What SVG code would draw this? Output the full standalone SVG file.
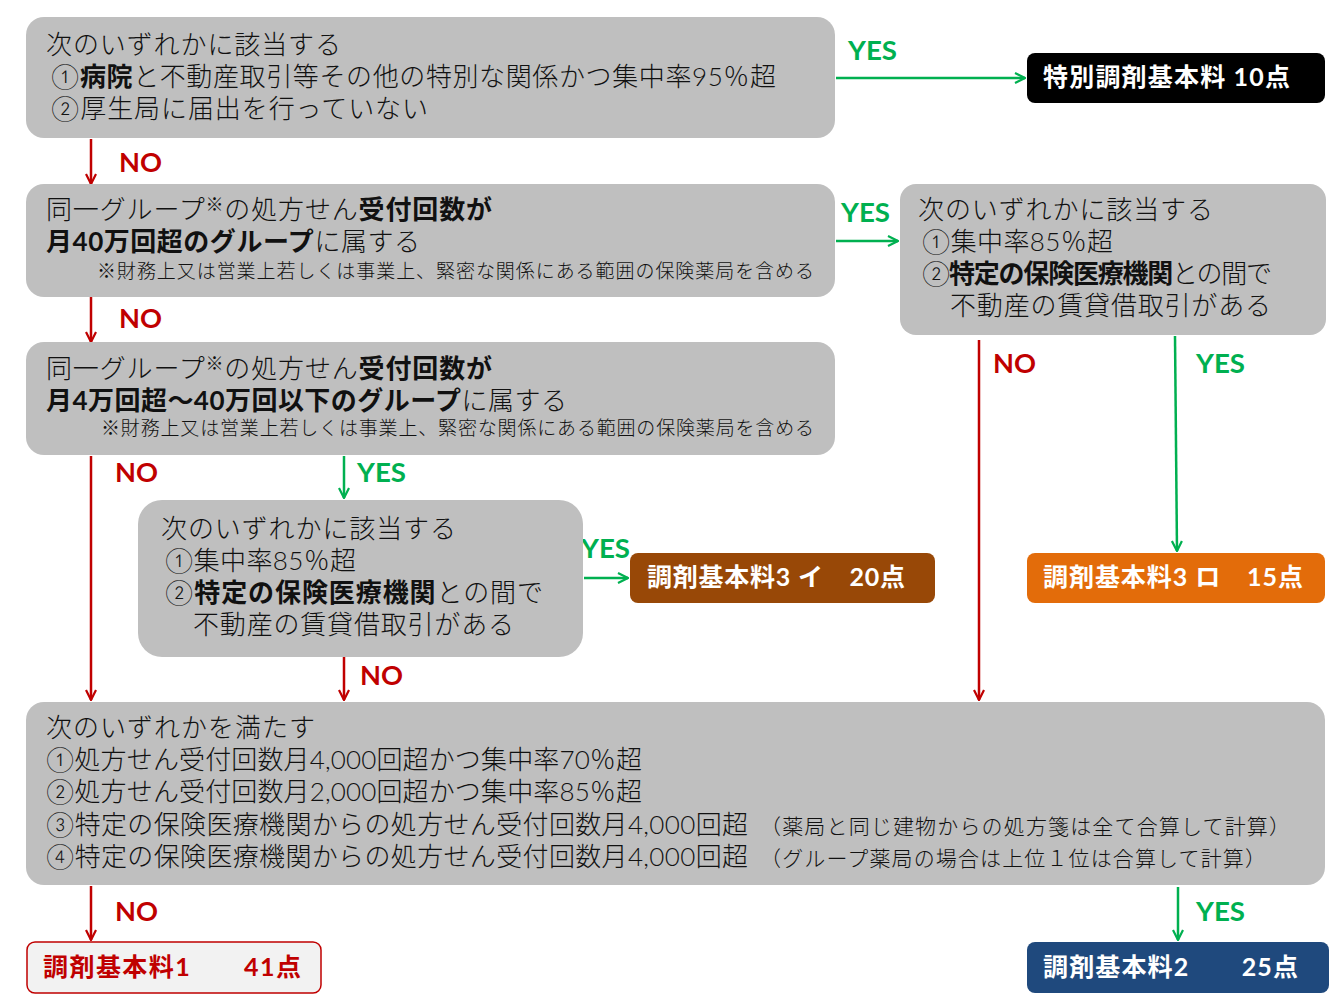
<svg xmlns="http://www.w3.org/2000/svg" width="1344" height="1008" viewBox="0 0 1344 1008">
<defs>
<marker id="ag" viewBox="0 0 12 12" refX="11" refY="6" markerWidth="12" markerHeight="12" markerUnits="userSpaceOnUse" orient="auto"><path d="M1,1 L11,6 L1,11" fill="none" stroke="#00b050" stroke-width="2.2"/></marker>
<marker id="ar" viewBox="0 0 12 12" refX="11" refY="6" markerWidth="12" markerHeight="12" markerUnits="userSpaceOnUse" orient="auto"><path d="M1,1 L11,6 L1,11" fill="none" stroke="#c00000" stroke-width="2.2"/></marker>
</defs>
<style>
text{font-family:Lato,"Noto Sans CJK JP",sans-serif;fill:#111;}
.t{font-size:26px;font-weight:300;}
.s{font-size:19px;font-weight:300;}
.p{font-size:21px;font-weight:300;}
.b{font-weight:700;}
.box{fill:#bfbfbf;}
.g{stroke:#00b050;stroke-width:2.5;fill:none;marker-end:url(#ag);}
.r{stroke:#c00000;stroke-width:2.5;fill:none;marker-end:url(#ar);}
.lg{font-size:26px;font-weight:700;fill:#00b050;}
.lr{font-size:26px;font-weight:700;fill:#c00000;}
.res{font-size:25px;font-weight:700;fill:#fff;}
</style>
<g id="connectors">
<line class="g" x1="836" y1="78" x2="1025" y2="78"/>
<line class="r" x1="91" y1="139" x2="91" y2="184"/>
<line class="g" x1="836" y1="241" x2="898" y2="241"/>
<line class="r" x1="91" y1="297" x2="91" y2="342"/>
<line class="r" x1="979" y1="340" x2="979" y2="700"/>
<line class="g" x1="1175" y1="336" x2="1177" y2="551"/>
<line class="r" x1="91" y1="456" x2="91" y2="700"/>
<line class="g" x1="344" y1="456" x2="344" y2="498"/>
<line class="g" x1="584" y1="578" x2="628" y2="578"/>
<line class="r" x1="344" y1="657" x2="344" y2="700"/>
<line class="r" x1="91" y1="886" x2="91" y2="940"/>
<line class="g" x1="1178" y1="887" x2="1178" y2="940"/>
<text class="lg" x="848" y="60" textLength="49" lengthAdjust="spacingAndGlyphs">YES</text>
<text class="lr" x="119" y="172" textLength="43" lengthAdjust="spacingAndGlyphs">NO</text>
<text class="lg" x="841" y="222" textLength="49" lengthAdjust="spacingAndGlyphs">YES</text>
<text class="lr" x="119" y="328" textLength="43" lengthAdjust="spacingAndGlyphs">NO</text>
<text class="lr" x="993" y="373" textLength="43" lengthAdjust="spacingAndGlyphs">NO</text>
<text class="lg" x="1196" y="373" textLength="49" lengthAdjust="spacingAndGlyphs">YES</text>
<text class="lr" x="115" y="482" textLength="43" lengthAdjust="spacingAndGlyphs">NO</text>
<text class="lg" x="357" y="482" textLength="49" lengthAdjust="spacingAndGlyphs">YES</text>
<text class="lg" x="581" y="558" textLength="49" lengthAdjust="spacingAndGlyphs">YES</text>
<text class="lr" x="360" y="685" textLength="43" lengthAdjust="spacingAndGlyphs">NO</text>
<text class="lr" x="115" y="921" textLength="43" lengthAdjust="spacingAndGlyphs">NO</text>
<text class="lg" x="1196" y="921" textLength="49" lengthAdjust="spacingAndGlyphs">YES</text>
</g>
<g id="q1">
<rect class="box" x="26" y="17" width="809" height="121" rx="18"/>
<text class="t" x="46" y="54" textLength="295">次のいずれかに該当する</text>
<text class="t" x="51" y="86" textLength="725">①<tspan class="b">病院</tspan>と不動産取引等その他の特別な関係かつ集中率95％超</text>
<text class="t" x="51" y="118" textLength="377">②厚生局に届出を行っていない</text>
</g>
<g id="r_special">
<rect x="1027" y="53" width="298" height="50" rx="8" fill="#000"/>
<text class="res" x="1043" y="86" textLength="247">特別調剤基本料 10点</text>
</g>
<g id="q2">
<rect class="box" x="26" y="184" width="809" height="113" rx="18"/>
<text class="t" x="46" y="219" textLength="446">同一グループ<tspan font-size="18" dy="-8">※</tspan><tspan dy="8">の処方せん</tspan><tspan class="b">受付回数が</tspan></text>
<text class="t" x="46" y="251" textLength="374"><tspan class="b">月40万回超のグループ</tspan>に属する</text>
<text class="s" x="97" y="278" textLength="717">※財務上又は営業上若しくは事業上、緊密な関係にある範囲の保険薬局を含める</text>
</g>
<g id="q2y">
<rect class="box" x="900" y="184" width="426" height="151" rx="16"/>
<text class="t" x="918" y="219" textLength="295">次のいずれかに該当する</text>
<text class="t" x="922" y="251" textLength="191">①集中率85％超</text>
<text class="t" x="922" y="283" textLength="350">②<tspan class="b">特定の保険医療機関</tspan>との間で</text>
<text class="t" x="950" y="315" textLength="321">不動産の賃貸借取引がある</text>
</g>
<g id="r_3ro">
<rect x="1027" y="553" width="298" height="50" rx="8" fill="#e36c0a"/>
<text class="res" x="1043" y="586" textLength="260">調剤基本料3 ロ　15点</text>
</g>
<g id="q3">
<rect class="box" x="26" y="342" width="809" height="113" rx="18"/>
<text class="t" x="46" y="378" textLength="446">同一グループ<tspan font-size="18" dy="-8">※</tspan><tspan dy="8">の処方せん</tspan><tspan class="b">受付回数が</tspan></text>
<text class="t" x="46" y="410" textLength="521"><tspan class="b">月4万回超～40万回以下のグループ</tspan>に属する</text>
<text class="s" x="101" y="435" textLength="713">※財務上又は営業上若しくは事業上、緊密な関係にある範囲の保険薬局を含める</text>
</g>
<g id="q3y">
<rect class="box" x="138" y="500" width="445" height="157" rx="24"/>
<text class="t" x="161" y="538" textLength="295">次のいずれかに該当する</text>
<text class="t" x="165" y="570" textLength="191">①集中率85％超</text>
<text class="t" x="165" y="602" textLength="378">②<tspan class="b">特定の保険医療機関</tspan>との間で</text>
<text class="t" x="193" y="634" textLength="321">不動産の賃貸借取引がある</text>
</g>
<g id="r_3i">
<rect x="630" y="553" width="305" height="50" rx="8" fill="#984807"/>
<text class="res" x="647" y="586" textLength="258">調剤基本料3 イ　20点</text>
</g>
<g id="q4">
<rect class="box" x="26" y="702" width="1299" height="183" rx="18"/>
<text class="t" x="46" y="737" textLength="269">次のいずれかを満たす</text>
<text class="t" x="46" y="769" textLength="596">①処方せん受付回数月4,000回超かつ集中率70％超</text>
<text class="t" x="46" y="801" textLength="596">②処方せん受付回数月2,000回超かつ集中率85％超</text>
<text class="t" x="46" y="834" textLength="702">③特定の保険医療機関からの処方せん受付回数月4,000回超</text>
<text class="p" x="760" y="834" textLength="530">（薬局と同じ建物からの処方箋は全て合算して計算）</text>
<text class="t" x="46" y="866" textLength="702">④特定の保険医療機関からの処方せん受付回数月4,000回超</text>
<text class="p" x="760" y="866" textLength="506">（グループ薬局の場合は上位１位は合算して計算）</text>
</g>
<g id="r_1">
<rect x="27" y="942" width="294" height="51" rx="8" fill="#f2f2f2" stroke="#c00000" stroke-width="1.5"/>
<text class="res" x="43" y="976" textLength="258" style="fill:#c00000">調剤基本料1　　41点</text>
</g>
<g id="r_2">
<rect x="1027" y="942" width="302" height="51" rx="8" fill="#1f497d"/>
<text class="res" x="1043" y="976" textLength="255">調剤基本料2　　25点</text>
</g>
</svg>
